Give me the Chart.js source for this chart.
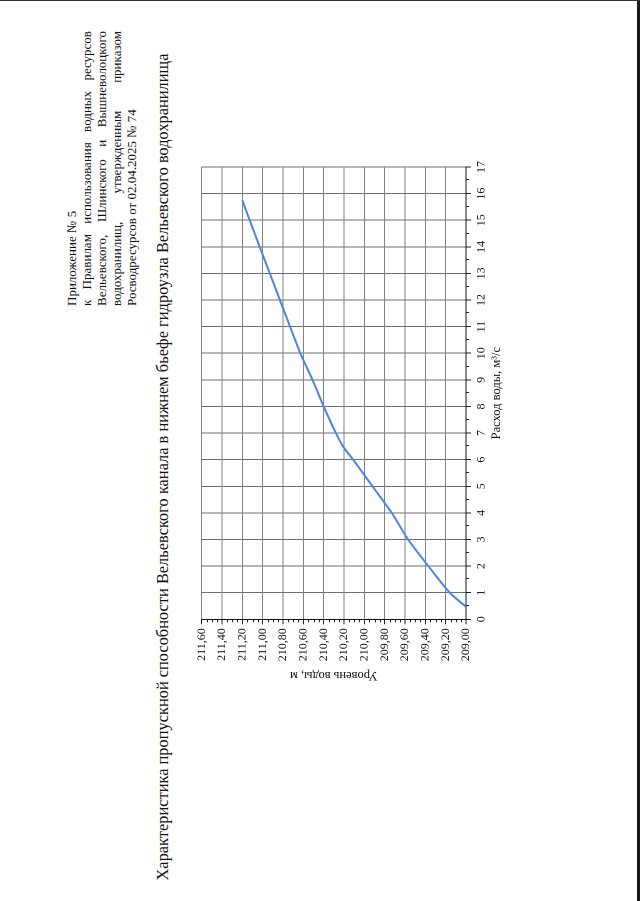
<!DOCTYPE html>
<html lang="ru">
<head>
<meta charset="utf-8">
<script src="https://cdn.jsdelivr.net/npm/chart.js@4.4.1/dist/chart.umd.min.js"></script>
<style>
  html, body { margin: 0; padding: 0; background: #fff; }
  body { width: 640px; height: 901px; position: relative; overflow: hidden;
         border-top: 1px solid #333; box-sizing: border-box; }
  .edge { position: absolute; right: 0; top: 0; width: 3px; height: 901px; background: #1a1a1a; }
  /* the scanned sheet is landscape, turned a quarter turn counter-clockwise */
  #sheet { position: absolute; left: 0; top: 0; width: 901px; height: 640px;
           transform-origin: 0 0; transform: translate(0, 901px) rotate(-90deg);
           font-family: "Liberation Serif", "DejaVu Serif", serif; color: #111; }
  #note { position: absolute; left: 596px; top: 64px; width: 275px;
          font-size: 13px; line-height: 15px; }
  #note div { white-space: nowrap; }
  #note .j { text-align: justify; text-align-last: justify; white-space: normal; }
  #title { position: absolute; left: 15px; top: 153px; width: 840px; text-align: center;
           font-size: 16.4px; white-space: nowrap; }
  #wrap { position: absolute; left: 150px; top: 180px; width: 600px; height: 340px; }
</style>
</head>
<body>
<div class="edge"></div>
<div id="sheet">
  <div id="note">
    <div>Приложение № 5</div>
    <div class="j">к Правилам использования водных ресурсов</div>
    <div class="j">Вельевского, Шлинского и Вышневолоцкого</div>
    <div class="j">водохранилищ, утвержденным приказом</div>
    <div>Росводресурсов от 02.04.2025 № 74</div>
  </div>
  <div id="title">Характеристика пропускной способности Вельевского канала в нижнем бьефе гидроузла Вельевского водохранилища</div>
  <div id="wrap"><canvas id="rating-chart"></canvas></div>
</div>
<script>
// Расход воды, м3/с
const flowValues = [0.47, 1, 2, 3, 4, 5, 6, 6.5, 7, 8, 9, 10, 12, 14, 15.75];
// Уровень воды, м
const levelValues = [209.00, 209.16, 209.37, 209.57, 209.73, 209.92, 210.11, 210.21, 210.28, 210.40, 210.51, 210.63, 210.83, 211.03, 211.20];
const flowTitle = 'Расход воды, м³/с';
const levelTitle = 'Уровень воды, м';

const serif = '"Liberation Serif", "DejaVu Serif", serif';

// small ticks between the major ones on both axes
const minorTicks = {
    id: 'minorTicks',
    afterDraw(chart) {
        const { ctx, chartArea, scales: { x, y } } = chart;
        ctx.save();
        ctx.strokeStyle = '#222';
        ctx.lineWidth = 1;
        ctx.beginPath();
        for (let q = 0.5; q < 17; q += 1) {
            const px = Math.round(x.getPixelForValue(q)) + 0.5;
            ctx.moveTo(px, chartArea.bottom);
            ctx.lineTo(px, chartArea.bottom + 3);
        }
        for (let i = 1; i < 52; i++) {
            if (i % 4 === 0) continue;
            const py = Math.round(y.getPixelForValue(209 + i * 0.05)) + 0.5;
            ctx.moveTo(chartArea.left, py);
            ctx.lineTo(chartArea.left - 3, py);
        }
        ctx.stroke();
        ctx.restore();
    }
};

const points = flowValues.map((q, i) => ({ x: q, y: levelValues[i] }));

new Chart(document.getElementById('rating-chart'), {
    type: 'line',
    data: {
        datasets: [{
            data: points,
            borderColor: '#4d84e3',
            borderWidth: 2,
            pointRadius: 0,
            tension: 0.25,
            fill: false
        }]
    },
    options: {
        responsive: true,
        maintainAspectRatio: false,
        animation: false,
        devicePixelRatio: 2,
        layout: { padding: { left: 0, right: 15, top: 21.7, bottom: 0 } },
        plugins: { legend: { display: false }, tooltip: { enabled: false } },
        scales: {
            x: {
                type: 'linear',
                min: 0,
                max: 17,
                afterFit: s => { s.height = 54; },
                ticks: { stepSize: 1, padding: 3, color: '#111', font: { family: serif, size: 12 } },
                grid: { color: '#6f6f6f', lineWidth: 1, tickLength: 5, tickColor: '#222' },
                border: { color: '#111', width: 1 },
                title: { display: true, text: flowTitle, color: '#111', padding: { top: 0, bottom: 16 },
                         font: { family: serif, size: 12.5 } }
            },
            y: {
                type: 'linear',
                min: 209,
                max: 211.6,
                afterFit: s => { s.width = 132.7; },
                ticks: {
                    stepSize: 0.2,
                    padding: 4,
                    color: '#111',
                    font: { family: serif, size: 12 },
                    callback: v => v.toFixed(2).replace('.', ',')
                },
                grid: { color: '#858180', lineWidth: 1, tickLength: 5, tickColor: '#222' },
                border: { color: '#111', width: 1 },
                title: { display: true, text: levelTitle, color: '#111', padding: { top: 69, bottom: 0 },
                         font: { family: serif, size: 12.5 } }
            }
        }
    },
    plugins: [minorTicks]
});
</script>
</body>
</html>
